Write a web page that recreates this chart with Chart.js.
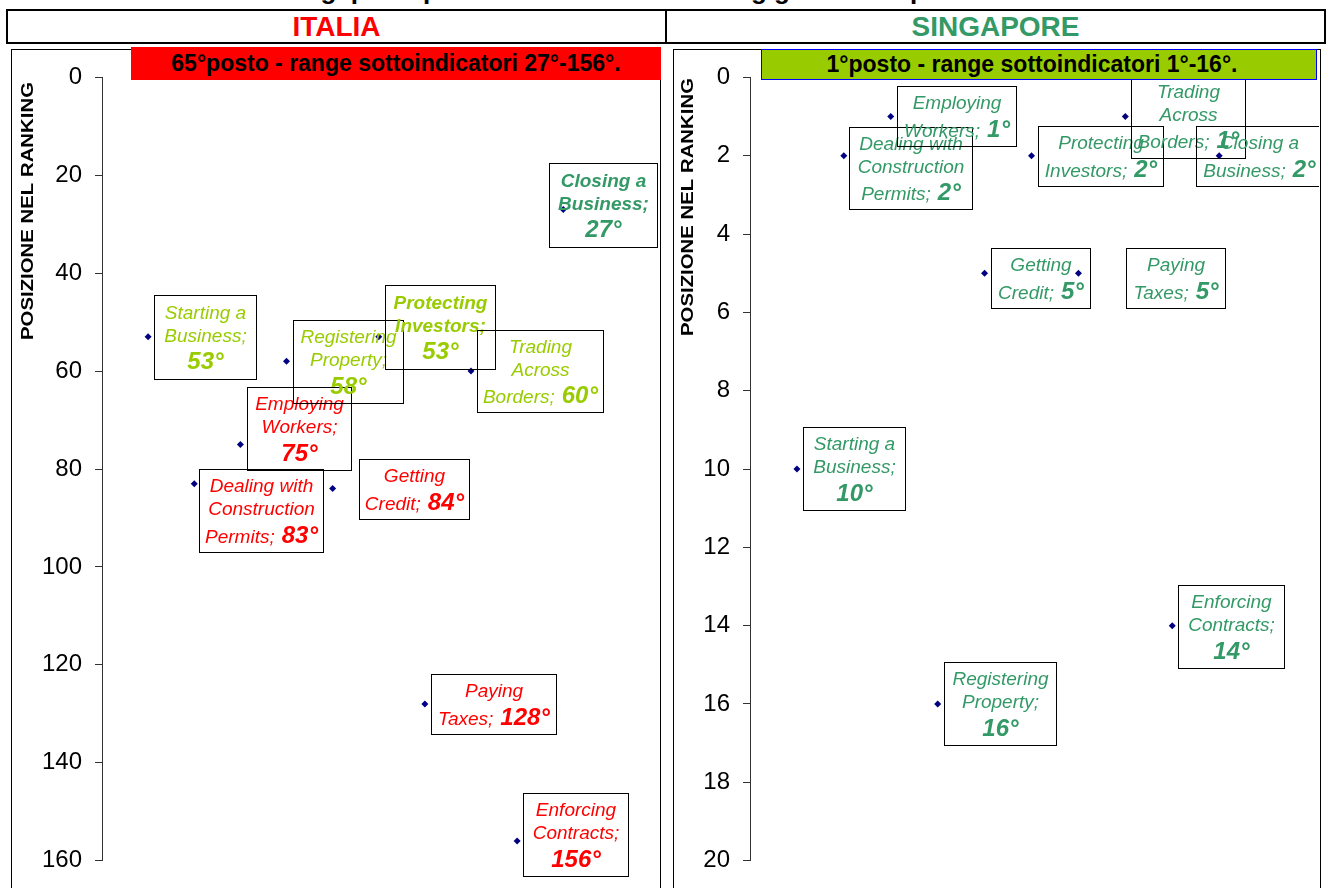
<!DOCTYPE html>
<html lang="it">
<head>
<meta charset="UTF-8">
<title>Italia vs Singapore - posizione nel ranking</title>
<script src="https://cdn.jsdelivr.net/npm/chart.js"></script>
<style>
  body { margin: 0; background: #fff; }
  #page { position: relative; width: 1330px; height: 888px; overflow: hidden; font-family: "Liberation Sans", Arial, sans-serif; }
  .title { position: absolute; left: 0; top: -23px; width: 1330px; text-align: center; font-weight: bold; font-size: 26px; line-height: 26px; white-space: nowrap; }
  .head { position: absolute; top: 9px; height: 35px; box-sizing: border-box; border: 2px solid #000; font-weight: bold; font-size: 28px; line-height: 31px; text-align: center; }
  #headIt { left: 6px; width: 661px; color: #ff0000; }
  #headSg { left: 665px; width: 661px; color: #339966; }
  .panel { position: absolute; top: 49px; height: 860px; box-sizing: border-box; border: 1px solid #000; }
  #panelIt { left: 11px; width: 650px; }
  #panelSg { left: 673px; width: 648px; }
  canvas { position: absolute; top: 50px; }
  #chartIt { left: 12px; }
  #chartSg { left: 674px; }
  .banner { position: absolute; box-sizing: border-box; font-weight: bold; font-size: 23px; text-align: center; color: #000; white-space: nowrap; }
  #bannerIt { left: 131px; top: 47px; width: 530px; height: 33px; line-height: 33px; background: #ff0000; }
  #bannerSg { left: 761px; top: 49px; width: 556px; height: 31px; line-height: 29px; background: #99cc00; border: 1px solid #0000ff; padding-right: 14px; }
</style>
</head>
<body>
<div id="page">
  <div class="title">Italia e Singapore: posizionamento nel ranking generale e per sottoindicatori</div>
  <div class="head" id="headIt">ITALIA</div>
  <div class="head" id="headSg">SINGAPORE</div>
  <div class="panel" id="panelIt"></div>
  <div class="panel" id="panelSg"></div>
  <canvas id="chartIt" width="647" height="838"></canvas>
  <canvas id="chartSg" width="645" height="838"></canvas>
  <div class="banner" id="bannerIt">65°posto - range sottoindicatori 27°-156°.</div>
  <div class="banner" id="bannerSg">1°posto - range sottoindicatori 1°-16°.</div>
</div>

<script>
// sottoindicatori Doing Business, nello stesso ordine dei punti sull'asse x
const categories = ['Starting a Business', 'Dealing with Construction Permits', 'Employing Workers',
  'Registering Property', 'Getting Credit', 'Protecting Investors', 'Paying Taxes',
  'Trading Across Borders', 'Enforcing Contracts', 'Closing a Business'];
const italiaRank = [53, 83, 75, 58, 84, 53, 128, 60, 156, 27];
const singaporeRank = [10, 2, 1, 16, 5, 2, 5, 1, 14, 2];
const italiaTicks = [0, 20, 40, 60, 80, 100, 120, 140, 160];
const singaporeTicks = [0, 2, 4, 6, 8, 10, 12, 14, 16, 18, 20];
const axisTitle = 'POSIZIONE NEL RANKING';

const FONT = '"Liberation Sans", Arial, sans-serif';
const RED = '#ff0000', LIME = '#99cc00', SEA = '#339966';

// stile e posizione delle etichette (box relativo al punto: dx, dy, larghezza, altezza)
const italiaStyle = {
  colors: [LIME, RED, RED, LIME, RED, LIME, RED, LIME, RED, SEA],
  bold: [false, false, false, false, false, true, false, false, false, true],
  splits: [[2, 1, 1], [2, 1, 2], [1, 1, 1], [1, 1, 1], [1, 2], [1, 1, 1], [1, 2], [1, 1, 2], [1, 1, 1], [2, 1, 1]],
  boxes: [[6, -42, 102, 84], [5, -15, 124, 83], [7, -58, 104, 83], [6, -41, 110, 83], [26, -30, 110, 60],
          [6, -52, 110, 84], [6, -30, 125, 60], [6, -41, 126, 82], [6, -48, 105, 83], [-14, -47, 108, 84]],
  title: { x: 15.5, top: 32, len: 258 }
};
const singaporeStyle = {
  colors: Array(10).fill(SEA),
  bold: Array(10).fill(false),
  splits: [[2, 1, 1], [2, 1, 2], [1, 2], [1, 1, 1], [1, 2], [1, 2], [1, 2], [1, 1, 2], [1, 1, 1], [2, 2]],
  boxes: [[6, -42, 102, 83], [5, -29, 123, 82], [6, -31, 119, 60], [6, -42, 112, 83], [6, -25, 99, 60],
          [6, -30, 125, 60], [48, -25, 99, 60], [6, -43, 114, 84], [6, -41, 106, 83], [-23, -30, 126, 60]],
  title: { x: 13.5, top: 28, len: 258 }
};

Chart.defaults.font.family = FONT;

function drawLabel(ctx, px, py, i, values, st) {
  const [dx, dy, w, h] = st.boxes[i];
  const x = Math.round(px + dx) + 0.5, y = Math.round(py + dy) + 0.5;
  ctx.strokeStyle = '#000';
  ctx.lineWidth = 1;
  ctx.strokeRect(x, y, w, h);

  // "Nome categoria; valore°" come nelle etichette di Excel
  const words = categories[i].split(' ');
  words[words.length - 1] += ';';
  const tokens = words.concat([values[i] + '°']);
  const lines = [];
  let k = 0;
  st.splits[i].forEach(n => { lines.push(tokens.slice(k, k + n)); k += n; });

  const nameFont = (st.bold[i] ? 'italic bold ' : 'italic ') + '19px ' + FONT;
  const valueFont = 'italic bold 24px ' + FONT;
  const lh = lines.map((l, j) => (j === lines.length - 1 ? 28 : 23));
  let top = y + (h - lh.reduce((a, b) => a + b, 0)) / 2;

  ctx.fillStyle = st.colors[i];
  ctx.textAlign = 'left';
  ctx.textBaseline = 'alphabetic';
  lines.forEach((l, j) => {
    const last = j === lines.length - 1;
    const nameTxt = (last ? l.slice(0, -1) : l).join(' ');
    const valTxt = last ? l[l.length - 1] : '';
    ctx.font = nameFont;
    const wn = nameTxt ? ctx.measureText(nameTxt).width : 0;
    ctx.font = valueFont;
    const wv = valTxt ? ctx.measureText(valTxt).width : 0;
    const gap = nameTxt && valTxt ? 7 : 0;
    const tx = x + w / 2 - (wn + gap + wv) / 2;
    const base = top + lh[j] / 2 + (last ? 8.6 : 6.8);
    if (nameTxt) { ctx.font = nameFont; ctx.fillText(nameTxt, tx, base); }
    if (valTxt) { ctx.font = valueFont; ctx.fillText(valTxt, tx + wn + gap, base); }
    top += lh[j];
  });
}

function drawAxisTitle(ctx, t) {
  ctx.save();
  ctx.font = 'bold 16px ' + FONT;
  const natural = ctx.measureText(axisTitle).width;
  ctx.translate(t.x, t.top + t.len / 2);
  ctx.rotate(-Math.PI / 2);
  ctx.scale(t.len / natural, 1);
  ctx.fillStyle = '#000';
  ctx.textAlign = 'center';
  ctx.textBaseline = 'alphabetic';
  ctx.fillText(axisTitle, 0, 16 * 0.716 / 2);
  ctx.restore();
}

function labelPlugin(values, st) {
  return {
    id: 'boxLabels',
    afterDatasetsDraw(chart) {
      const ctx = chart.ctx;
      ctx.save();
      chart.getDatasetMeta(0).data.forEach((pt, i) => drawLabel(ctx, pt.x, pt.y, i, values, st));
      drawAxisTitle(ctx, st.title);
      ctx.restore();
    }
  };
}

function buildChart(id, values, ticks, st, axisWidth, padding) {
  return new Chart(document.getElementById(id), {
    type: 'scatter',
    data: {
      datasets: [{
        data: values.map((v, i) => ({ x: i + 1, y: v })),
        pointStyle: 'rectRot',
        pointRadius: 3.5,
        pointHoverRadius: 3.5,
        backgroundColor: '#000080',
        borderColor: '#000080',
        borderWidth: 0
      }]
    },
    options: {
      responsive: false,
      animation: false,
      devicePixelRatio: 1,
      events: [],
      layout: { padding: padding },
      plugins: { legend: { display: false }, tooltip: { enabled: false } },
      scales: {
        x: { type: 'linear', min: 0, max: 12, display: false },
        y: {
          reverse: true,
          min: ticks[0],
          max: ticks[ticks.length - 1],
          afterBuildTicks: s => { s.ticks = ticks.map(v => ({ value: v })); },
          afterFit: s => { s.width = axisWidth; },
          grid: { drawOnChartArea: false, tickLength: 7, color: '#333' },
          border: { color: '#333', width: 1 },
          ticks: { padding: 13, color: '#000', font: { size: 24 } }
        }
      }
    },
    plugins: [labelPlugin(values, st)]
  });
}

buildChart('chartIt', italiaRank, italiaTicks, italiaStyle, 90, { left: 0, top: 27, right: 1, bottom: 25 });
buildChart('chartSg', singaporeRank, singaporeTicks, singaporeStyle, 76, { left: 0, top: 27, right: 6, bottom: 21 });
</script>
</body>
</html>
